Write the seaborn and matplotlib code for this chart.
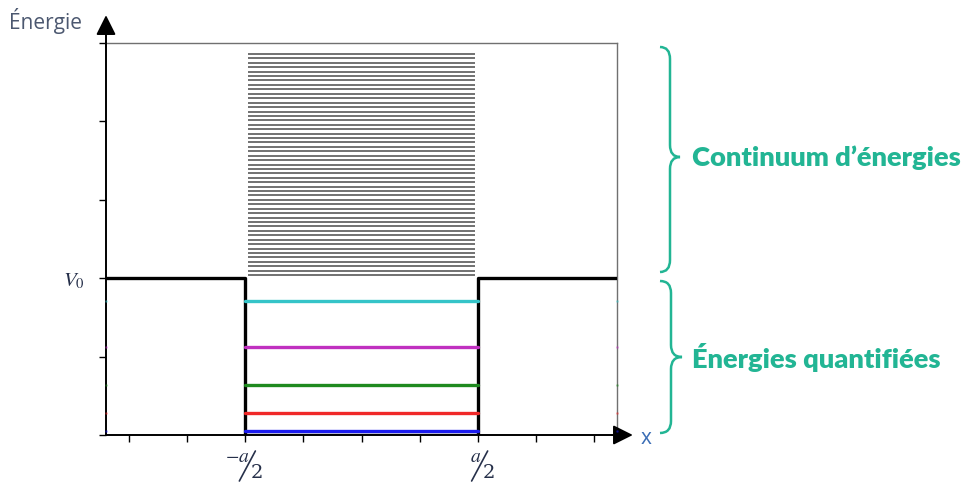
import numpy as np
import pandas as pd
import seaborn as sns
import matplotlib.pyplot as plt
from matplotlib.path import Path
from matplotlib.patches import PathPatch
from matplotlib import transforms

# ---- data (x in units of a, energies in units of V0) ----
well_x = [-1.1, -0.5, -0.5, 0.5, 0.5, 1.1]
well_v = [1.0, 1.0, 0.0, 0.0, 1.0, 1.0]

level_names = ["n=1", "n=2", "n=3", "n=4", "n=5"]
level_energies = [0.025, 0.14, 0.318, 0.56, 0.853]
level_colors = ["#1a1aee", "#f02828", "#1f8a1f", "#c030c0", "#35c4c8"]

continuum_energies = [
    1.020, 1.048, 1.076, 1.105, 1.133, 1.161, 1.189, 1.217, 1.246, 1.274,
    1.302, 1.330, 1.358, 1.387, 1.415, 1.443, 1.471, 1.499, 1.528, 1.556,
    1.584, 1.612, 1.640, 1.669, 1.697, 1.725, 1.753, 1.781, 1.810, 1.838,
    1.866, 1.894, 1.922, 1.951, 1.979, 2.007, 2.035, 2.063, 2.092, 2.120,
    2.148, 2.176, 2.204, 2.233, 2.261, 2.289, 2.317, 2.345, 2.374, 2.402,
    2.430,
]

x_ticks = [-1.0, -0.75, -0.5, -0.25, 0.0, 0.25, 0.5, 0.75, 1.0]
frac_ticks = [-0.5, 0.5]
frac_numerators = [r"$-a$", r"$a$"]
frac_denominators = ["2", "2"]
y_ticks = [0.0, 0.5, 1.0, 1.5, 2.0, 2.5]
y_tick_labels = ["", "", r"$V_0$", "", "", ""]

teal = "#22b594"
ink = "#26304a"

# ---- figure ----
sns.set_theme(style="white")
plt.rcParams["font.family"] = ["Open Sans", "DejaVu Sans"]
plt.rcParams["mathtext.fontset"] = "stix"

W, H = 965, 484
fig = plt.figure(figsize=(W / 100, H / 100), dpi=100)
ax = fig.add_axes([106 / W, 1 - 435 / H, 511 / W, 392 / H])

# continuum of unbound states
ax.hlines(continuum_energies, -0.49, 0.49, color="#4a4a4a", lw=1.1, zorder=2)

# potential well
well_df = pd.DataFrame({"x": well_x, "V": well_v})
sns.lineplot(data=well_df, x="x", y="V", sort=False, estimator=None,
             color="black", lw=2.4, ax=ax, zorder=3)

# bound levels
rows = []
for name, e in zip(level_names, level_energies):
    rows.append({"x": -0.5, "E": e, "level": name})
    rows.append({"x": 0.5, "E": e, "level": name})
levels_df = pd.DataFrame(rows)
sns.lineplot(data=levels_df, x="x", y="E", hue="level", palette=level_colors,
             sort=False, estimator=None, lw=2.4, legend=False, ax=ax, zorder=4)

# faint level markers on the frame edges
for e, c in zip(level_energies, level_colors):
    ax.plot([-1.1, 1.1], [e, e], ls="none", marker="o", ms=1.0, color=c,
            clip_on=False, zorder=5, alpha=0.35)

ax.set_xlim(-1.1, 1.1)
ax.set_ylim(0, 2.5)
ax.set_xlabel("")
ax.set_ylabel("")

ax.set_xticks(x_ticks)
ax.set_xticklabels([""] * len(x_ticks))
ax.set_yticks(y_ticks)
ax.set_yticklabels(y_tick_labels, fontsize=15, color=ink)
ax.tick_params(axis="both", direction="out", length=5, width=1, color="black",
               bottom=True, left=True, pad=10)

for side in ("top", "right"):
    ax.spines[side].set_color("#707070")
    ax.spines[side].set_linewidth(1.0)
for side in ("left", "bottom"):
    ax.spines[side].set_color("black")
    ax.spines[side].set_linewidth(1.4)

# axis arrows
arrow_kw = dict(arrowstyle="-|>,head_length=0.6,head_width=0.3", color="black",
                lw=1.4, shrinkA=0, shrinkB=0, mutation_scale=20)
ax.annotate("", xy=(0, 1.071), xytext=(0, 0.99), xycoords="axes fraction",
            arrowprops=arrow_kw, annotation_clip=False)
ax.annotate("", xy=(1.031, 0), xytext=(0.99, 0), xycoords="axes fraction",
            arrowprops=arrow_kw, annotation_clip=False)

fig.text(9 / W, 1 - 21 / H, "Énergie", fontsize=15, color="#4c5870",
         va="center", ha="left")
fig.text(641 / W, 1 - 438 / H, "x", fontsize=15, color="#3a6db5",
         va="center", ha="left")

# fraction tick labels  a/2
px = 2.2 / 511  # data units per pixel along x
blend = transforms.blended_transform_factory(ax.transData, fig.transFigure)
for xt, num, den in zip(frac_ticks, frac_numerators, frac_denominators):
    cx = xt + 2 * px
    ax.text(cx + 2 * px, 1 - 457 / H, num, transform=blend, ha="right",
            va="center", fontsize=14, color=ink)
    ax.plot([cx - 8 * px, cx + 8 * px], [1 - 481 / H, 1 - 451 / H],
            transform=blend, color=ink, lw=1.2, clip_on=False)
    ax.text(cx + 3 * px, 1 - 473 / H, den, transform=blend, ha="left",
            va="center", fontsize=14, color=ink, family="DejaVu Serif")


# curly braces drawn in pixel space
def brace(x0, y_top, y_tip, y_bot, w=10, r=12):
    pts = [(x0, y_top), (x0 + w, y_top), (x0 + w, y_top + r),
           (x0 + w, y_tip - r), (x0 + w, y_tip), (x0 + 2 * w, y_tip),
           (x0 + w, y_tip), (x0 + w, y_tip + r),
           (x0 + w, y_bot - r), (x0 + w, y_bot), (x0, y_bot)]
    codes = [Path.MOVETO, Path.CURVE3, Path.CURVE3, Path.LINETO,
             Path.CURVE3, Path.CURVE3, Path.CURVE3, Path.CURVE3,
             Path.LINETO, Path.CURVE3, Path.CURVE3]
    verts = [(x / W, 1 - y / H) for x, y in pts]
    patch = PathPatch(Path(verts, codes), transform=fig.transFigure,
                      fill=False, edgecolor=teal, lw=1.8)
    fig.add_artist(patch)


brace(660, 47, 157, 272)
brace(660, 281, 357, 433, w=11)

fig.text(692 / W, 1 - 158 / H, "Continuum d’énergies", fontsize=19.6,
         fontweight="heavy", color=teal, va="center", ha="left", family="Lato")
fig.text(692 / W, 1 - 357 / H, "Énergies quantifiées", fontsize=19.6,
         fontweight="heavy", color=teal, va="center", ha="left", family="Lato")

fig.savefig("out.png", dpi=100, facecolor="white")
